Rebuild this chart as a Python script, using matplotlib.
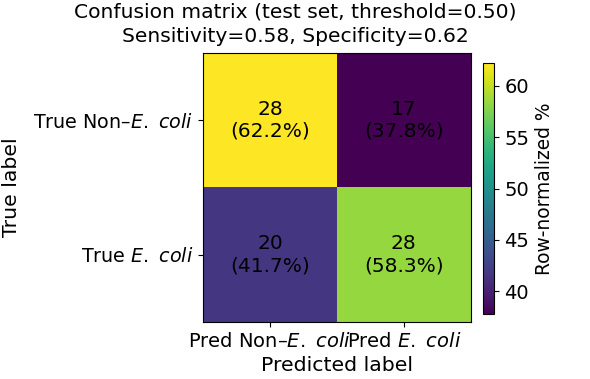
import numpy as np
import matplotlib.pyplot as plt

counts = np.array([[28, 17],
                   [20, 28]])
row_pct = np.array([[62.2, 37.8],
                    [41.7, 58.3]])
x_labels = ['Pred Non\u2013$\\it{E.\\ coli}$', 'Pred $\\it{E.\\ coli}$']
y_labels = ['True Non\u2013$\\it{E.\\ coli}$', 'True $\\it{E.\\ coli}$']

fig = plt.figure(figsize=(5.9, 3.79), dpi=100)
ax = fig.add_axes([0.344, 0.150, 0.454, 0.710])
cax = fig.add_axes([0.819, 0.1715, 0.019, 0.662])

im = ax.imshow(row_pct, cmap='viridis', aspect='auto')
for i in range(2):
    for j in range(2):
        ax.text(j, i, f'{counts[i, j]}\n({row_pct[i, j]:.1f}%)',
                ha='center', va='center', color='black', fontsize=14.5)

ax.set_xticks([0, 1])
ax.set_xticklabels(x_labels, fontsize=14)
ax.set_yticks([0, 1])
ax.set_yticklabels(y_labels, fontsize=13.8)
ax.set_xlabel('Predicted label', fontsize=14.7)
ax.set_ylabel('True label', fontsize=14.7, labelpad=9)
fig.text(0.5, 1 - 3 / 379,
         'Confusion matrix (test set, threshold=0.50)\nSensitivity=0.58, Specificity=0.62',
         ha='center', va='top', fontsize=14.6, linespacing=1.3)

cb = fig.colorbar(im, cax=cax)
cb.set_label('Row-normalized %', fontsize=13.4)
cb.ax.tick_params(labelsize=14)

fig.savefig('out.png', dpi=100)
